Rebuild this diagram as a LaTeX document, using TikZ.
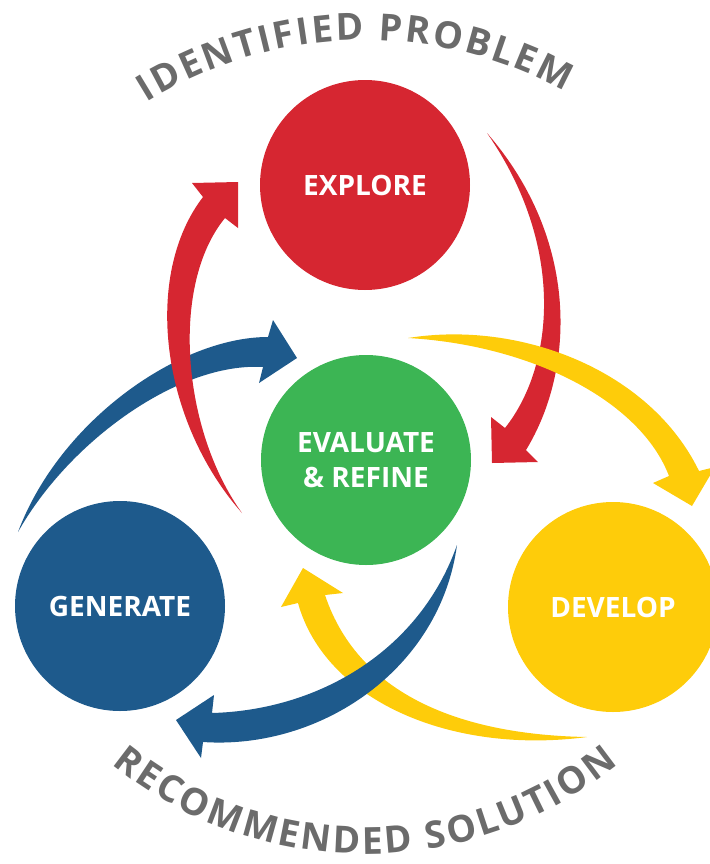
\documentclass[tikz,border=0pt]{standalone}
\usepackage{fontspec}
\newfontfamily\labelfont{Open Sans}
\usetikzlibrary{decorations.text,calc}
\definecolor{stagered}{HTML}{D62631}
\definecolor{stagegreen}{HTML}{3CB554}
\definecolor{stageblue}{HTML}{1E5A8C}
\definecolor{stageyellow}{HTML}{FECC0A}
\definecolor{arcgray}{HTML}{6B6B6B}
\newcommand{\arcfont}{\labelfont\bfseries\fontsize{28}{28}\selectfont}
\begin{document}
\begin{tikzpicture}[x=0.75pt,y=-0.75pt,
  stage/.style={circle, minimum size=157.5pt, inner sep=0pt, text=white,
    font=\labelfont\bfseries\fontsize{21}{27.75}\selectfont, align=center}]
\useasboundingbox (0,0) rectangle (710,864);
\clip (0,0) rectangle (710,864);

% the four stages
\node[stage, fill=stagered]    (explore)  at (365,185) {EXPLORE};
\node[stage, fill=stagegreen]  (evaluate) at (366,460) {EVALUATE\\[-1pt]\& REFINE};
\node[stage, fill=stageblue]   (generate) at (120,606) {GENERATE};
\node[stage, fill=stageyellow] (develop)  at (613,607) {DEVELOP};

% yellow: develop -> evaluate (lower sweep)
\fill[stageyellow] (587,737) .. controls (450,755) and (325,700) .. (298,603)
  -- (281,607) -- (303,568) -- (343,593) -- (325,595)
  .. controls (360,700) and (470,735) .. (587,737) -- cycle;

% blue: evaluate -> generate
\fill[stageblue] (457,545) .. controls (420,650) and (320,710) .. (212,713)
  -- (214,695) -- (176,720) -- (201,758) -- (203,742)
  .. controls (320,750) and (440,670) .. (457,545) -- cycle;

% blue: generate -> evaluate (upper sweep)
\fill[stageblue] (18,532) .. controls (60,420) and (180,337) .. (268,337)
  -- (273,320) -- (297,358) -- (259,383) -- (263,367)
  .. controls (180,362) and (70,440) .. (18,532) -- cycle;

% red: evaluate -> explore
\fill[stagered] (242,513) .. controls (160,420) and (143,275) .. (203,197)
  -- (192,183) -- (238,182) -- (238,228) -- (225,218)
  .. controls (170,285) and (182,430) .. (242,513) -- cycle;

% red: explore -> evaluate
\fill[stagered] (487,133) .. controls (580,240) and (575,370) .. (526,450)
  -- (538,462) -- (492,463) -- (491,417) -- (505,428)
  .. controls (555,365) and (565,245) .. (487,133) -- cycle;

% yellow: evaluate -> develop (upper sweep)
\fill[stageyellow] (408,338) .. controls (520,320) and (650,370) .. (699,471)
  -- (715,467) -- (692,506) -- (653,483) -- (669,476)
  .. controls (640,400) and (530,345) .. (408,338) -- cycle;

% curved captions
\coordinate (hub) at (365,452);
\path[decorate, decoration={text along path, text align={fit to path},
    text color=arcgray, text={|\arcfont|IDENTIFIED PROBLEM}}]
  ($(hub)+(-122:412)$) arc[start angle=-122, end angle=-61, radius=412];
\path[decorate, decoration={text along path, text align={fit to path},
    text color=arcgray, text={|\arcfont|RECOMMENDED SOLUTION}}]
  ($(hub)+(-231:402)$) arc[start angle=-231, end angle=-309, radius=402];
\end{tikzpicture}
\end{document}
